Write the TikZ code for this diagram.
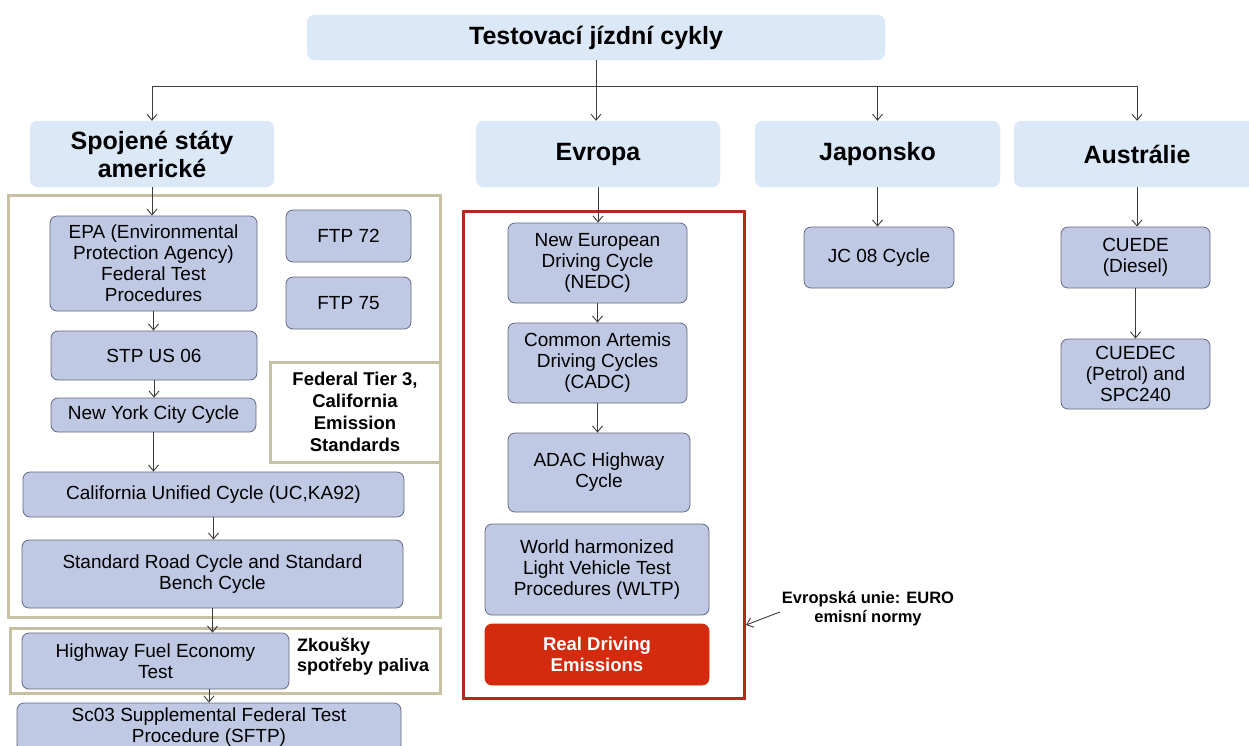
\documentclass[tikz,border=0pt]{standalone}
\usepackage{fontspec}
\setmainfont{Liberation Sans}
\usetikzlibrary{arrows.meta}

\definecolor{regionfill}{RGB}{219,232,247}
\definecolor{cycfill}{RGB}{191,201,228}
\definecolor{cycborder}{RGB}{98,104,134}
\definecolor{tanframe}{RGB}{199,192,162}
\definecolor{euframe}{RGB}{178,42,26}
\definecolor{rdefill}{RGB}{212,42,14}
\definecolor{wiregray}{RGB}{60,60,60}

\begin{document}
\begin{tikzpicture}[x=1pt,y=-1pt,
  region/.style={fill=regionfill, draw=regionfill, rounded corners=8pt, inner sep=0pt,
    align=center, font=\fontsize{25}{28}\selectfont\bfseries},
  cyc/.style={fill=cycfill, draw=cycborder, line width=0.8pt, rounded corners=7pt, inner sep=0pt,
    align=center, font=\fontsize{19}{21}\selectfont},
  rde/.style={cyc, fill=rdefill, draw=rdefill, text=white, font=\fontsize{18.5}{20.5}\selectfont\bfseries},
  tanbox/.style={draw=tanframe, line width=3pt, inner sep=0pt},
  redbox/.style={draw=euframe, line width=3pt, inner sep=0pt},
  note/.style={inner sep=0pt, font=\fontsize{18.5}{22}\selectfont\bfseries, align=center},
  wire/.style={draw=wiregray, line width=0.9pt},
  link/.style={wire, -{Straight Barb[length=6pt,width=10pt]}}]

\useasboundingbox (0,0) rectangle (1249,745);
\fill[white] (0,0) rectangle (1249,745);
\clip (0,0) rectangle (1249,745);

% grouping frames
\node[tanbox, minimum width=432, minimum height=422] (usaframe) at (224,406) {};
\node[tanbox, minimum width=170, minimum height=100, note] (tier) at (355,412)
  {Federal Tier 3,\\California\\Emission\\Standards};
\node[tanbox, minimum width=430, minimum height=65] (fuelframe) at (225,660.5) {};
\node[redbox, minimum width=281, minimum height=487] (eubox) at (603.5,454.5) {};

% root and regions
\node[region, minimum width=578, minimum height=45] (title) at (596,37.5) {Testovací jízdní cykly};
\node[region, minimum width=244, minimum height=66] (usa) at (152,154) {Spojené státy\\americké};
\node[region, minimum width=244, minimum height=66] (eu) at (598,154) {Evropa};
\node[region, minimum width=245, minimum height=66] (jp) at (877.5,154) {Japonsko};
\node[region, minimum width=246, minimum height=66] (au) at (1137,154) {Austrálie};

% United States
\node[cyc, minimum width=207, minimum height=95] (epa) at (153.5,263.5)
  {EPA (Environmental\\Protection Agency)\\Federal Test\\Procedures};
\node[cyc, minimum width=125, minimum height=52] (ftpa) at (348.5,236) {FTP 72};
\node[cyc, minimum width=125, minimum height=52] (ftpb) at (348.5,303) {FTP 75};
\node[cyc, minimum width=206, minimum height=49] (stp) at (154,355.5) {STP US 06};
\node[cyc, minimum width=205, minimum height=34] (nyc) at (153.5,415) {New York City Cycle};
\node[cyc, minimum width=381, minimum height=45] (cal) at (213.5,494.5) {California Unified Cycle (UC,KA92)};
\node[cyc, minimum width=381, minimum height=68] (std) at (212.5,574)
  {Standard Road Cycle and Standard\\Bench Cycle};
\node[cyc, minimum width=267, minimum height=56] (hwy) at (155.5,661) {Highway Fuel Economy\\Test};
\node[note, anchor=west, align=left, font=\fontsize{18}{20}\selectfont\bfseries] (fuel) at (297,657)
  {Zkoušky\\spotřeby paliva};
\node[cyc, minimum width=384, minimum height=49] (sc) at (209,727.5)
  {Sc03 Supplemental Federal Test\\Procedure (SFTP)};

% Europe
\node[cyc, minimum width=179, minimum height=80] (nedc) at (597.5,263)
  {New European\\Driving Cycle\\(NEDC)};
\node[cyc, minimum width=179, minimum height=80] (cadc) at (597.5,363)
  {Common Artemis\\Driving Cycles\\(CADC)};
\node[cyc, minimum width=182, minimum height=79] (adac) at (599,472.5) {ADAC Highway\\Cycle};
\node[cyc, minimum width=224, minimum height=91] (wltp) at (597,569.5)
  {World harmonized\\Light Vehicle Test\\Procedures (WLTP)};
\node[rde, minimum width=224, minimum height=61] (rdrive) at (597,654.5) {Real Driving\\Emissions};
\node[note, font=\fontsize{16.5}{19}\selectfont\bfseries] (eulabel) at (868,609)
  {Evropská unie: EURO\\emisní normy};
\coordinate (eutip) at (746,625);

% Japan and Australia
\node[cyc, minimum width=150, minimum height=61] (jc) at (879,257.5) {JC 08 Cycle};
\node[cyc, minimum width=149, minimum height=61] (cuede) at (1135.5,257.5) {CUEDE\\(Diesel)};
\node[cyc, minimum width=149, minimum height=70] (cuedec) at (1135.5,374)
  {CUEDEC\\(Petrol) and\\SPC240};

% connectors
\coordinate (bus) at (0,86);
\draw[wire] (usa.north |- bus) -- (au.north |- bus);
\draw[link] (usa.north |- bus) -- (usa.north);
\draw[link] (title.south) -- (title.south |- eu.north);
\draw[link] (jp.north |- bus) -- (jp.north);
\draw[link] (au.north |- bus) -- (au.north);

\draw[link] (usa.south) -- (usa.south |- epa.north);
\draw[link] (epa.south) -- (epa.south |- stp.north);
\draw[link] (stp.south) -- (stp.south |- nyc.north);
\draw[link] (nyc.south) -- (nyc.south |- cal.north);
\draw[link] (cal.south) -- (cal.south |- std.north);
\draw[link] (std.south) -- (std.south |- hwy.north);
\draw[link] (sc.north |- hwy.south) -- (sc.north);

\draw[link] (eu.south) -- (eu.south |- nedc.north);
\draw[link] (nedc.south) -- (nedc.south |- cadc.north);
\draw[link] (cadc.south) -- (cadc.south |- adac.north);
\draw[link] ([xshift=-2pt,yshift=-3pt]eulabel.west) -- (eutip);

\draw[link] (jp.south) -- (jp.south |- jc.north);
\draw[link] (au.south) -- (au.south |- cuede.north);
\draw[link] (cuede.south) -- (cuede.south |- cuedec.north);
\end{tikzpicture}
\end{document}
